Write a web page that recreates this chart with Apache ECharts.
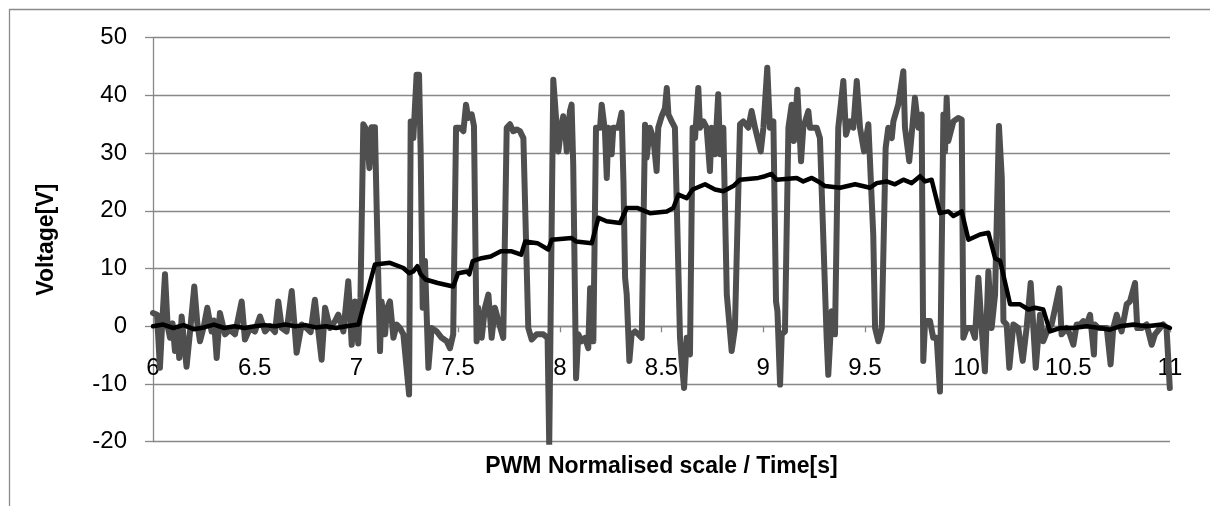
<!DOCTYPE html>
<html>
<head>
<meta charset="utf-8">
<title>PWM voltage</title>
<script src="https://cdn.jsdelivr.net/npm/echarts/dist/echarts.min.js"></script>
<style>
  html, body { margin: 0; padding: 0; background: #fff; }
  #chart { width: 1210px; height: 506px; }
</style>
</head>
<body>
<div id="chart"></div>
<script>
// raw PWM output (gray)
const pwmTime = [
  6.000, 6.020, 6.034, 6.046, 6.059, 6.072, 6.084, 6.096, 6.108, 6.120,
  6.129, 6.141, 6.153, 6.165, 6.182, 6.203, 6.218, 6.231, 6.250, 6.267,
  6.288, 6.300, 6.313, 6.329, 6.354, 6.378, 6.403, 6.436, 6.452, 6.477,
  6.501, 6.526, 6.551, 6.575, 6.600, 6.616, 6.633, 6.657, 6.682, 6.698,
  6.706, 6.731, 6.755, 6.775, 6.796, 6.813, 6.829, 6.846, 6.870, 6.895,
  6.911, 6.936, 6.960, 6.977, 6.993, 7.009, 7.020, 7.034, 7.050, 7.064,
  7.075, 7.091, 7.100, 7.116, 7.124, 7.141, 7.150, 7.165, 7.182, 7.198,
  7.214, 7.231, 7.259, 7.267, 7.280, 7.296, 7.308, 7.316, 7.326, 7.337,
  7.354, 7.370, 7.395, 7.419, 7.444, 7.460, 7.476, 7.490, 7.509, 7.526,
  7.539, 7.550, 7.567, 7.578, 7.591, 7.599, 7.616, 7.632, 7.649, 7.665,
  7.681, 7.698, 7.722, 7.739, 7.755, 7.771, 7.788, 7.804, 7.821, 7.845,
  7.862, 7.886, 7.919, 7.940, 7.948, 7.968, 7.985, 7.993, 8.009, 8.017,
  8.026, 8.034, 8.050, 8.058, 8.066, 8.080, 8.091, 8.108, 8.124, 8.140,
  8.149, 8.165, 8.178, 8.198, 8.206, 8.222, 8.231, 8.239, 8.255, 8.263,
  8.288, 8.304, 8.313, 8.321, 8.329, 8.342, 8.353, 8.370, 8.386, 8.403,
  8.419, 8.427, 8.443, 8.460, 8.476, 8.484, 8.501, 8.517, 8.526, 8.534,
  8.550, 8.566, 8.591, 8.599, 8.611, 8.624, 8.640, 8.653, 8.665, 8.681,
  8.689, 8.706, 8.722, 8.738, 8.747, 8.763, 8.779, 8.788, 8.804, 8.821,
  8.845, 8.861, 8.886, 8.902, 8.927, 8.943, 8.960, 8.988, 9.001, 9.020,
  9.033, 9.050, 9.063, 9.070, 9.083, 9.091, 9.107, 9.124, 9.140, 9.151,
  9.168, 9.186, 9.197, 9.222, 9.230, 9.263, 9.279, 9.312, 9.320, 9.337,
  9.353, 9.369, 9.394, 9.407, 9.427, 9.443, 9.460, 9.476, 9.496, 9.517,
  9.541, 9.550, 9.566, 9.583, 9.602, 9.615, 9.632, 9.640, 9.664, 9.689,
  9.697, 9.718, 9.746, 9.763, 9.779, 9.787, 9.796, 9.820, 9.836, 9.853,
  9.869, 9.886, 9.894, 9.902, 9.910, 9.935, 9.959, 9.976, 9.984, 10.001,
  10.025, 10.041, 10.058, 10.074, 10.090, 10.107, 10.123, 10.140, 10.159, 10.173,
  10.181, 10.197, 10.210, 10.230, 10.254, 10.276, 10.295, 10.315, 10.340, 10.361,
  10.377, 10.402, 10.418, 10.456, 10.467, 10.492, 10.508, 10.525, 10.541, 10.558,
  10.574, 10.590, 10.607, 10.626, 10.631, 10.648, 10.664, 10.689, 10.708, 10.721,
  10.738, 10.762, 10.787, 10.803, 10.828, 10.839, 10.861, 10.885, 10.910, 10.926,
  10.951, 10.967, 10.983, 10.999
]
const pwmVolt = [
  2.3, 2.0, -7.2, 1.0, 9.0, 0.0, -2.0, 0.5, -4.3, -1.0,
  -5.5, 1.7, -3.0, -7.0, -1.0, 6.9, 0.5, -2.6, 0.0, 3.2,
  -0.9, 1.0, -5.5, 2.3, -1.4, -0.6, -1.4, 4.3, -2.3, -0.3,
  -0.9, 1.7, -0.9, 0.0, -1.0, 4.3, -0.3, -0.9, 6.1, -0.9,
  -4.6, 0.3, -0.3, -1.0, 4.6, -0.9, -5.8, 3.2, -0.3, 0.9,
  2.0, -0.9, 7.8, -3.2, 4.3, -3.0, 5.0, 35.0, 34.0, 27.4,
  34.5, 34.5, 20.0, -4.3, 4.3, -1.4, 3.0, 4.3, -2.0, 0.3,
  -0.3, -1.4, -11.8, 35.5, 32.6, 43.6, 43.6, 30.0, 3.2, 11.3,
  -7.2, -0.3, -0.9, -2.0, -2.6, -3.8, -1.4, 34.4, 34.4, 33.8,
  38.4, 36.1, 36.7, 34.7, -2.6, 3.2, -2.0, 3.2, 5.5, -2.0,
  3.2, 0.9, -2.0, 34.4, 35.0, 33.8, 34.1, 33.8, 32.6, -0.3,
  -2.3, -1.4, -1.4, -2.0, -20.5, 42.7, 34.4, 30.3, 35.0, 36.4,
  34.4, 30.3, 37.3, 38.4, 28.0, -9.0, -1.4, -2.6, -2.0, -3.8,
  6.6, -2.6, 34.4, 34.4, 38.4, 33.8, 25.7, 34.4, 29.8, 34.4,
  34.4, 37.0, 25.0, 8.4, 5.5, -6.0, -1.4, -0.9, -1.4, -2.0,
  34.9, 29.2, 34.4, 32.6, 26.9, 34.4, 36.4, 37.8, 41.3, 36.7,
  35.5, 34.4, -2.0, -6.0, -10.7, -2.0, -4.9, 34.4, 32.6, 41.3,
  34.4, 35.5, 34.4, 26.9, 34.4, 29.8, 40.2, 29.8, 34.4, 5.5,
  -4.3, -0.3, 35.0, 35.5, 34.4, 37.3, 34.4, 30.3, 34.4, 44.8,
  34.4, 35.5, 4.3, 2.6, -10.1, -1.4, -0.9, 34.4, 38.4, 32.1,
  41.0, 28.6, 34.4, 37.3, 34.4, 34.4, 32.6, -2.0, -8.4, 2.6,
  -1.4, 34.4, 42.5, 33.2, 35.5, 34.4, 42.5, 34.4, 30.3, 35.0,
  15.9, -0.3, -2.6, -0.3, 30.9, 34.4, 32.6, 35.5, 38.4, 44.2,
  34.4, 28.6, 39.6, 34.4, 36.7, -6.0, 0.9, 0.9, -2.0, -2.0,
  -11.3, 36.7, 30.3, 39.6, 32.1, 35.5, 36.1, 35.8, -2.0, -0.3,
  -0.3, -2.0, 8.4, -0.3, -7.8, 9.5, -0.3, 5.5, 34.7, 25.7,
  0.9, 0.3, -7.2, 0.3, -0.3, -6.0, -0.3, 7.5, -7.2, 2.0,
  -2.6, -0.3, 0.3, 6.6, -1.4, -0.3, -1.4, -3.2, 0.3, 0.3,
  0.9, 0.3, 2.0, -4.9, 0.3, -0.3, -0.3, -0.3, -6.6, -0.3,
  2.0, -0.9, 3.8, 4.3, 7.5, -0.3, -0.3, 0.3, -3.2, -1.4,
  -0.3, 0.3, -0.3, -10.7
]

// averaged voltage (black)
const avgTime = [
  6.00, 6.05, 6.10, 6.15, 6.20, 6.25, 6.30, 6.35, 6.40, 6.45,
  6.50, 6.55, 6.60, 6.65, 6.70, 6.75, 6.80, 6.85, 6.90, 6.95,
  7.010, 7.091, 7.165, 7.231, 7.259, 7.280, 7.300, 7.316, 7.340, 7.400,
  7.476, 7.500, 7.545, 7.555, 7.572, 7.615, 7.660, 7.710, 7.760, 7.810,
  7.830, 7.890, 7.943, 7.960, 8.058, 8.080, 8.157, 8.190, 8.230, 8.296,
  8.329, 8.380, 8.443, 8.526, 8.558, 8.583, 8.624, 8.653, 8.714, 8.735,
  8.763, 8.804, 8.853, 8.886, 8.976, 9.009, 9.041, 9.066, 9.165, 9.197,
  9.239, 9.270, 9.304, 9.378, 9.452, 9.525, 9.558, 9.607, 9.648, 9.689,
  9.730, 9.771, 9.796, 9.828, 9.869, 9.910, 9.935, 9.976, 10.009, 10.066,
  10.107, 10.140, 10.165, 10.214, 10.263, 10.304, 10.337, 10.377, 10.410, 10.459,
  10.525, 10.590, 10.656, 10.705, 10.754, 10.820, 10.885, 10.959, 11.000
]
const avgVolt = [
  0.0, 0.3, -0.3, 0.2, -0.5, -0.2, 0.3, -0.3, 0.0, -0.3,
  0.0, 0.2, 0.0, 0.3, 0.0, 0.2, -0.2, 0.0, -0.3, 0.0,
  0.3, 10.7, 11.0, 10.1, 9.2, 9.5, 10.4, 9.0, 8.1, 7.5,
  6.9, 9.2, 9.5, 9.0, 11.3, 11.8, 12.1, 13.0, 13.0, 12.4,
  14.7, 14.4, 13.3, 15.0, 15.3, 14.7, 14.4, 18.8, 18.2, 17.9,
  20.5, 20.5, 19.6, 19.9, 20.5, 22.8, 22.2, 23.7, 24.6, 24.2,
  23.7, 23.4, 24.3, 25.4, 25.7, 26.0, 26.4, 25.4, 25.7, 25.1,
  25.7, 25.1, 24.3, 24.0, 24.6, 24.0, 24.8, 25.1, 24.6, 25.4,
  24.8, 26.0, 25.1, 25.4, 19.6, 19.9, 19.1, 19.9, 15.0, 15.9,
  16.2, 11.8, 11.3, 3.8, 3.8, 2.9, 3.2, 2.9, -0.9, -0.3,
  -0.3, 0.0, -0.3, -0.6, 0.0, 0.3, 0.0, 0.3, -0.3
]

const font = 'Liberation Sans'
const gridColor = '#888888'

const chart = echarts.init(document.getElementById('chart'), null, { renderer: 'canvas' })

const option = {
  animation: false,
  backgroundColor: '#fff',
  textStyle: { fontFamily: font },
  grid: [
    // plot area
    { left: 153, right: 40, top: 37.7, bottom: 64.3, outerBoundsMode: 'none' },
    // thin strip at V = 0, carries the x axis that crosses at zero
    { left: 153, right: 40, top: 325.3, height: 1, outerBoundsMode: 'none' }
  ],
  xAxis: [
    {
      type: 'value',
      gridIndex: 0,
      min: 6,
      max: 11,
      interval: 0.5,
      name: 'PWM Normalised scale / Time[s]',
      nameLocation: 'middle',
      nameGap: 13,
      nameTextStyle: { fontFamily: font, fontSize: 23, fontWeight: 'bold', color: '#000' },
      axisLine: { show: false },
      axisTick: { show: false },
      axisLabel: { show: false },
      splitLine: { show: false }
    },
    {
      type: 'value',
      gridIndex: 1,
      position: 'bottom',
      min: 6,
      max: 11,
      interval: 0.5,
      axisLine: { show: true, onZero: false, lineStyle: { color: gridColor, width: 1.3 } },
      axisTick: { show: true, length: 6, lineStyle: { color: gridColor, width: 1.3 } },
      axisLabel: { fontFamily: font, fontSize: 24, color: '#000', margin: 30 },
      splitLine: { show: false }
    }
  ],
  yAxis: [
    {
      type: 'value',
      gridIndex: 0,
      min: -20,
      max: 50,
      interval: 10,
      name: 'Voltage[V]',
      nameLocation: 'middle',
      nameGap: 95,
      nameTextStyle: { fontFamily: font, fontSize: 23, fontWeight: 'bold', color: '#000' },
      axisLine: { show: true, onZero: false, lineStyle: { color: gridColor, width: 1.3 } },
      axisTick: { show: true, length: 8, lineStyle: { color: gridColor, width: 1.3 } },
      axisLabel: { fontFamily: font, fontSize: 24, color: '#000', margin: 26 },
      splitLine: { show: true, lineStyle: { color: gridColor, width: 1.3 } }
    },
    {
      type: 'value',
      gridIndex: 1,
      min: 0,
      max: 1,
      show: false
    }
  ],
  graphic: [
    {
      // outer chart frame (only top and left edges are in view)
      type: 'rect',
      left: 7,
      top: 7,
      shape: { x: 0, y: 0, width: 1400, height: 700 },
      style: { fill: 'none', stroke: '#8a8a8a', lineWidth: 1.3 },
      silent: true
    }
  ],
  series: [
    {
      name: 'PWM',
      type: 'line',
      xAxisIndex: 0,
      yAxisIndex: 0,
      data: pwmTime.map((t, i) => [t, pwmVolt[i]]),
      showSymbol: false,
      lineStyle: { color: '#4f4f4f', width: 6, join: 'round', cap: 'round' },
      z: 2
    },
    {
      name: 'Average',
      type: 'line',
      xAxisIndex: 0,
      yAxisIndex: 0,
      data: avgTime.map((t, i) => [t, avgVolt[i]]),
      showSymbol: false,
      lineStyle: { color: '#000', width: 4.5, join: 'round', cap: 'round' },
      z: 3
    }
  ]
}

chart.setOption(option)
</script>
</body>
</html>
